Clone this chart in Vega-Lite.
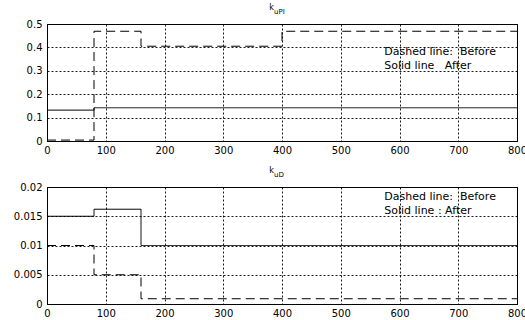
{
  "$schema": "https://vega.github.io/schema/vega-lite/v6.json",
  "background": "white",
  "padding": {"left": 6, "top": 3, "right": 0, "bottom": 0},
  "config": {
    "font": "DejaVu Sans",
    "view": {"stroke": "black", "strokeWidth": 1},
    "axis": {
      "labelFont": "DejaVu Sans", "labelFontSize": 10, "labelColor": "black",
      "domainColor": "black", "grid": true, "gridColor": "black", "gridDash": [2, 2],
      "gridOpacity": 0.9, "ticks": false, "labelPadding": 4, "title": null,
      "labelOverlap": false, "labelFlush": false
    },
    "axisY": {"minExtent": 40, "maxExtent": 40, "labelPadding": 5}
  },
  "datasets": {
    "lines": [
      {"panel": "PI", "series": "Before", "t": 0, "v": 0.004},
      {"panel": "PI", "series": "Before", "t": 80, "v": 0.469},
      {"panel": "PI", "series": "Before", "t": 160, "v": 0.405},
      {"panel": "PI", "series": "Before", "t": 400, "v": 0.469},
      {"panel": "PI", "series": "Before", "t": 800, "v": 0.469},
      {"panel": "PI", "series": "After", "t": 0, "v": 0.132},
      {"panel": "PI", "series": "After", "t": 80, "v": 0.142},
      {"panel": "PI", "series": "After", "t": 800, "v": 0.142},
      {"panel": "D", "series": "Before", "t": 0, "v": 0.01},
      {"panel": "D", "series": "Before", "t": 80, "v": 0.005},
      {"panel": "D", "series": "Before", "t": 160, "v": 0.0009},
      {"panel": "D", "series": "Before", "t": 800, "v": 0.0009},
      {"panel": "D", "series": "After", "t": 0, "v": 0.015},
      {"panel": "D", "series": "After", "t": 80, "v": 0.0162},
      {"panel": "D", "series": "After", "t": 160, "v": 0.01},
      {"panel": "D", "series": "After", "t": 800, "v": 0.01}
    ],
    "notes": [
      {"panel": "PI", "t": 574, "v": 0.38, "label": "Dashed line:\u00a0\u00a0Before"},
      {"panel": "PI", "t": 574, "v": 0.32, "label": "Solid line\u00a0\u00a0\u00a0After"},
      {"panel": "D", "t": 574, "v": 0.0183, "label": "Dashed line:\u00a0\u00a0Before"},
      {"panel": "D", "t": 574, "v": 0.0159, "label": "Solid line\u00a0:\u00a0After"}
    ],
    "titles": [
      {"panel": "PI", "t": 400, "v": 0.5, "main": "k", "sub": "uPI"},
      {"panel": "D", "t": 400, "v": 0.02, "main": "k", "sub": "uD"}
    ]
  },
  "spacing": 10,
  "vconcat": [
    {
      "width": 470, "height": 117,
      "encoding": {
        "x": {"field": "t", "type": "quantitative", "scale": {"domain": [0, 800], "nice": false}, "axis": {"values": [0, 100, 200, 300, 400, 500, 600, 700, 800]}},
        "y": {"field": "v", "type": "quantitative", "scale": {"domain": [0, 0.5], "nice": false}, "axis": {"values": [0, 0.1, 0.2, 0.3, 0.4, 0.5], "format": "~g"}}
      },
      "layer": [
        {
          "data": {"name": "lines"},
          "transform": [{"filter": "datum.panel == 'PI'"}],
          "mark": {"type": "line", "interpolate": "step-after", "color": "black", "strokeWidth": 1},
          "encoding": {
            "detail": {"field": "series"},
            "strokeDash": {"field": "series", "type": "nominal", "scale": {"domain": ["Before", "After"], "range": [[9, 5], [1, 0]]}, "legend": null}
          }
        },
        {
          "data": {"name": "notes"},
          "transform": [{"filter": "datum.panel == 'PI'"}],
          "mark": {"type": "text", "align": "left", "baseline": "middle", "fontSize": 11, "color": "black"},
          "encoding": {"text": {"field": "label"}}
        },
        {
          "data": {"name": "titles"},
          "transform": [{"filter": "datum.panel == 'PI'"}],
          "mark": {"type": "text", "align": "right", "baseline": "alphabetic", "fontSize": 8, "dx": -8, "dy": -14, "color": "black"},
          "encoding": {"text": {"field": "main"}}
        },
        {
          "data": {"name": "titles"},
          "transform": [{"filter": "datum.panel == 'PI'"}],
          "mark": {"type": "text", "align": "left", "baseline": "alphabetic", "fontSize": 7, "dx": -8, "dy": -10, "color": "black"},
          "encoding": {"text": {"field": "sub"}}
        }
      ]
    },
    {
      "width": 470, "height": 117,
      "encoding": {
        "x": {"field": "t", "type": "quantitative", "scale": {"domain": [0, 800], "nice": false}, "axis": {"values": [0, 100, 200, 300, 400, 500, 600, 700, 800]}},
        "y": {"field": "v", "type": "quantitative", "scale": {"domain": [0, 0.02], "nice": false}, "axis": {"values": [0, 0.005, 0.01, 0.015, 0.02], "format": "~g"}}
      },
      "layer": [
        {
          "data": {"name": "lines"},
          "transform": [{"filter": "datum.panel == 'D'"}],
          "mark": {"type": "line", "interpolate": "step-after", "color": "black", "strokeWidth": 1},
          "encoding": {
            "detail": {"field": "series"},
            "strokeDash": {"field": "series", "type": "nominal", "scale": {"domain": ["Before", "After"], "range": [[9, 5], [1, 0]]}, "legend": null}
          }
        },
        {
          "data": {"name": "notes"},
          "transform": [{"filter": "datum.panel == 'D'"}],
          "mark": {"type": "text", "align": "left", "baseline": "middle", "fontSize": 11, "color": "black"},
          "encoding": {"text": {"field": "label"}}
        },
        {
          "data": {"name": "titles"},
          "transform": [{"filter": "datum.panel == 'D'"}],
          "mark": {"type": "text", "align": "right", "baseline": "alphabetic", "fontSize": 8, "dx": -8, "dy": -14, "color": "black"},
          "encoding": {"text": {"field": "main"}}
        },
        {
          "data": {"name": "titles"},
          "transform": [{"filter": "datum.panel == 'D'"}],
          "mark": {"type": "text", "align": "left", "baseline": "alphabetic", "fontSize": 7, "dx": -8, "dy": -10, "color": "black"},
          "encoding": {"text": {"field": "sub"}}
        }
      ]
    }
  ]
}
